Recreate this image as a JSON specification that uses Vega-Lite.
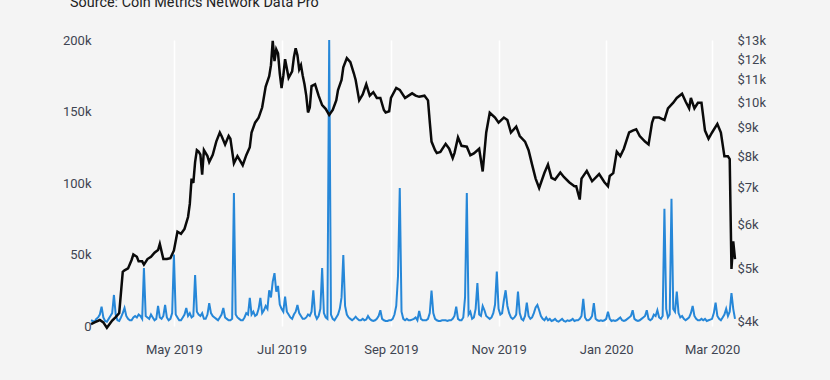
{
  "$schema": "https://vega.github.io/schema/vega-lite/v6.json",
  "autosize": {"type": "none"},
  "padding": {"left": 91, "top": 40, "right": 95, "bottom": 54},
  "width": 644,
  "height": 286,
  "background": "#f4f4f4",
  "title": {"text": "Source: Coin Metrics Network Data Pro", "anchor": "start", "frame": "group", "dx": -21, "offset": 0, "dy": -13, "baseline": "alphabetic", "font": "Roboto", "fontSize": 14.4, "fontWeight": "normal", "color": "#222222"},
  "config": {
    "view": {"stroke": null},
    "axis": {"domain": false, "ticks": false, "labelFont": "Roboto", "labelFontSize": 13, "labelColor": "#3e4451", "title": null}
  },
  "datasets": {
    "tx": [
      {"d":"2019-03-15","v":4},{"d":"2019-03-16","v":3.5},{"d":"2019-03-17","v":3},{"d":"2019-03-18","v":5},{"d":"2019-03-19","v":6},{"d":"2019-03-20","v":8},{"d":"2019-03-21","v":13.5},{"d":"2019-03-22","v":6},{"d":"2019-03-23","v":3.5},{"d":"2019-03-24","v":3},{"d":"2019-03-25","v":5},{"d":"2019-03-26","v":7},{"d":"2019-03-27","v":9},{"d":"2019-03-28","v":21.7},{"d":"2019-03-29","v":8},{"d":"2019-03-30","v":4},{"d":"2019-03-31","v":3.5},
      {"d":"2019-04-01","v":6},{"d":"2019-04-02","v":9},{"d":"2019-04-03","v":12.6},{"d":"2019-04-04","v":7},{"d":"2019-04-05","v":5},{"d":"2019-04-06","v":4},{"d":"2019-04-07","v":4},{"d":"2019-04-08","v":6},{"d":"2019-04-09","v":7},{"d":"2019-04-10","v":6},{"d":"2019-04-11","v":8},{"d":"2019-04-12","v":7},{"d":"2019-04-13","v":5},{"d":"2019-04-14","v":40.5},{"d":"2019-04-15","v":7},{"d":"2019-04-16","v":6},{"d":"2019-04-17","v":5},{"d":"2019-04-18","v":8},{"d":"2019-04-19","v":6},{"d":"2019-04-20","v":4},{"d":"2019-04-21","v":5},{"d":"2019-04-22","v":14},{"d":"2019-04-23","v":6},{"d":"2019-04-24","v":5},{"d":"2019-04-25","v":7},{"d":"2019-04-26","v":14.7},{"d":"2019-04-27","v":6},{"d":"2019-04-28","v":4},{"d":"2019-04-29","v":5},{"d":"2019-04-30","v":9},
      {"d":"2019-05-01","v":50},{"d":"2019-05-02","v":8},{"d":"2019-05-03","v":6},{"d":"2019-05-04","v":4},{"d":"2019-05-05","v":4},{"d":"2019-05-06","v":6},{"d":"2019-05-07","v":8},{"d":"2019-05-08","v":12.6},{"d":"2019-05-09","v":7},{"d":"2019-05-10","v":9},{"d":"2019-05-11","v":6},{"d":"2019-05-12","v":7},{"d":"2019-05-13","v":35.7},{"d":"2019-05-14","v":10},{"d":"2019-05-15","v":8},{"d":"2019-05-16","v":7},{"d":"2019-05-17","v":9},{"d":"2019-05-18","v":5},{"d":"2019-05-19","v":5},{"d":"2019-05-20","v":8},{"d":"2019-05-21","v":16},{"d":"2019-05-22","v":9},{"d":"2019-05-23","v":7},{"d":"2019-05-24","v":6},{"d":"2019-05-25","v":5},{"d":"2019-05-26","v":4},{"d":"2019-05-27","v":6},{"d":"2019-05-28","v":8},{"d":"2019-05-29","v":12.6},{"d":"2019-05-30","v":6},{"d":"2019-05-31","v":5},
      {"d":"2019-06-01","v":4},{"d":"2019-06-02","v":4},{"d":"2019-06-03","v":5},{"d":"2019-06-04","v":93},{"d":"2019-06-05","v":8},{"d":"2019-06-06","v":6},{"d":"2019-06-07","v":5},{"d":"2019-06-08","v":4},{"d":"2019-06-09","v":4},{"d":"2019-06-10","v":6},{"d":"2019-06-11","v":9},{"d":"2019-06-12","v":8},{"d":"2019-06-13","v":19.6},{"d":"2019-06-14","v":8},{"d":"2019-06-15","v":10},{"d":"2019-06-16","v":7},{"d":"2019-06-17","v":8},{"d":"2019-06-18","v":12},{"d":"2019-06-19","v":19.6},{"d":"2019-06-20","v":9},{"d":"2019-06-21","v":11},{"d":"2019-06-22","v":14},{"d":"2019-06-23","v":12},{"d":"2019-06-24","v":25},{"d":"2019-06-25","v":20},{"d":"2019-06-26","v":31},{"d":"2019-06-27","v":37},{"d":"2019-06-28","v":24},{"d":"2019-06-29","v":28},{"d":"2019-06-30","v":15},
      {"d":"2019-07-01","v":12},{"d":"2019-07-02","v":10},{"d":"2019-07-03","v":20.5},{"d":"2019-07-04","v":10},{"d":"2019-07-05","v":8},{"d":"2019-07-06","v":6},{"d":"2019-07-07","v":5},{"d":"2019-07-08","v":8},{"d":"2019-07-09","v":10},{"d":"2019-07-10","v":14.7},{"d":"2019-07-11","v":9},{"d":"2019-07-12","v":7},{"d":"2019-07-13","v":5},{"d":"2019-07-14","v":5},{"d":"2019-07-15","v":6},{"d":"2019-07-16","v":8},{"d":"2019-07-17","v":7},{"d":"2019-07-18","v":10},{"d":"2019-07-19","v":25},{"d":"2019-07-20","v":8},{"d":"2019-07-21","v":5},{"d":"2019-07-22","v":7},{"d":"2019-07-23","v":12},{"d":"2019-07-24","v":40.5},{"d":"2019-07-25","v":9},{"d":"2019-07-26","v":6},{"d":"2019-07-27","v":5},{"d":"2019-07-28","v":200},{"d":"2019-07-29","v":8},{"d":"2019-07-30","v":5},{"d":"2019-07-31","v":4},
      {"d":"2019-08-01","v":6},{"d":"2019-08-02","v":8},{"d":"2019-08-03","v":12},{"d":"2019-08-04","v":20},{"d":"2019-08-05","v":49.6},{"d":"2019-08-06","v":14},{"d":"2019-08-07","v":8},{"d":"2019-08-08","v":6},{"d":"2019-08-09","v":5},{"d":"2019-08-10","v":4},{"d":"2019-08-11","v":5},{"d":"2019-08-12","v":6.5},{"d":"2019-08-13","v":5},{"d":"2019-08-14","v":4},{"d":"2019-08-15","v":4},{"d":"2019-08-16","v":5},{"d":"2019-08-17","v":4},{"d":"2019-08-18","v":4.5},{"d":"2019-08-19","v":7},{"d":"2019-08-20","v":5},{"d":"2019-08-21","v":4},{"d":"2019-08-22","v":3.5},{"d":"2019-08-23","v":4},{"d":"2019-08-24","v":5},{"d":"2019-08-25","v":7},{"d":"2019-08-26","v":11},{"d":"2019-08-27","v":5},{"d":"2019-08-28","v":4},{"d":"2019-08-29","v":3.5},{"d":"2019-08-30","v":3.5},{"d":"2019-08-31","v":4},
      {"d":"2019-09-01","v":4},{"d":"2019-09-02","v":5},{"d":"2019-09-03","v":8},{"d":"2019-09-04","v":14},{"d":"2019-09-05","v":35},{"d":"2019-09-06","v":96.5},{"d":"2019-09-07","v":10},{"d":"2019-09-08","v":5},{"d":"2019-09-09","v":4},{"d":"2019-09-10","v":5},{"d":"2019-09-11","v":4},{"d":"2019-09-12","v":4},{"d":"2019-09-13","v":4.5},{"d":"2019-09-14","v":5},{"d":"2019-09-15","v":6},{"d":"2019-09-16","v":4},{"d":"2019-09-17","v":10.5},{"d":"2019-09-18","v":5},{"d":"2019-09-19","v":4},{"d":"2019-09-20","v":4},{"d":"2019-09-21","v":4},{"d":"2019-09-22","v":5},{"d":"2019-09-23","v":9},{"d":"2019-09-24","v":24.7},{"d":"2019-09-25","v":9},{"d":"2019-09-26","v":5},{"d":"2019-09-27","v":4},{"d":"2019-09-28","v":3.5},{"d":"2019-09-29","v":3.5},{"d":"2019-09-30","v":4},
      {"d":"2019-10-01","v":4},{"d":"2019-10-02","v":4},{"d":"2019-10-03","v":3.5},{"d":"2019-10-04","v":4},{"d":"2019-10-05","v":4},{"d":"2019-10-06","v":5},{"d":"2019-10-07","v":7},{"d":"2019-10-08","v":13.5},{"d":"2019-10-09","v":5},{"d":"2019-10-10","v":4},{"d":"2019-10-11","v":4},{"d":"2019-10-12","v":6},{"d":"2019-10-13","v":20},{"d":"2019-10-14","v":93},{"d":"2019-10-15","v":8},{"d":"2019-10-16","v":10},{"d":"2019-10-17","v":5},{"d":"2019-10-18","v":6},{"d":"2019-10-19","v":12},{"d":"2019-10-20","v":30},{"d":"2019-10-21","v":8},{"d":"2019-10-22","v":7},{"d":"2019-10-23","v":14},{"d":"2019-10-24","v":11},{"d":"2019-10-25","v":7},{"d":"2019-10-26","v":6},{"d":"2019-10-27","v":5},{"d":"2019-10-28","v":6},{"d":"2019-10-29","v":9},{"d":"2019-10-30","v":15},{"d":"2019-10-31","v":38},
      {"d":"2019-11-01","v":12},{"d":"2019-11-02","v":8},{"d":"2019-11-03","v":9},{"d":"2019-11-04","v":18},{"d":"2019-11-05","v":25},{"d":"2019-11-06","v":14},{"d":"2019-11-07","v":9},{"d":"2019-11-08","v":6},{"d":"2019-11-09","v":5},{"d":"2019-11-10","v":6},{"d":"2019-11-11","v":8},{"d":"2019-11-12","v":24},{"d":"2019-11-13","v":9},{"d":"2019-11-14","v":5},{"d":"2019-11-15","v":4},{"d":"2019-11-16","v":7},{"d":"2019-11-17","v":16.3},{"d":"2019-11-18","v":7},{"d":"2019-11-19","v":5},{"d":"2019-11-20","v":6},{"d":"2019-11-21","v":9},{"d":"2019-11-22","v":13},{"d":"2019-11-23","v":14.7},{"d":"2019-11-24","v":11},{"d":"2019-11-25","v":7},{"d":"2019-11-26","v":5},{"d":"2019-11-27","v":4},{"d":"2019-11-28","v":6},{"d":"2019-11-29","v":4},{"d":"2019-11-30","v":5},
      {"d":"2019-12-01","v":3.5},{"d":"2019-12-02","v":4},{"d":"2019-12-03","v":5},{"d":"2019-12-04","v":3.5},{"d":"2019-12-05","v":3},{"d":"2019-12-06","v":4},{"d":"2019-12-07","v":5},{"d":"2019-12-08","v":3.5},{"d":"2019-12-09","v":3},{"d":"2019-12-10","v":4},{"d":"2019-12-11","v":3.5},{"d":"2019-12-12","v":4},{"d":"2019-12-13","v":5},{"d":"2019-12-14","v":3.5},{"d":"2019-12-15","v":4},{"d":"2019-12-16","v":4},{"d":"2019-12-17","v":5},{"d":"2019-12-18","v":7},{"d":"2019-12-19","v":19},{"d":"2019-12-20","v":6},{"d":"2019-12-21","v":4},{"d":"2019-12-22","v":4},{"d":"2019-12-23","v":5},{"d":"2019-12-24","v":7},{"d":"2019-12-25","v":16},{"d":"2019-12-26","v":5},{"d":"2019-12-27","v":4},{"d":"2019-12-28","v":3.5},{"d":"2019-12-29","v":4},{"d":"2019-12-30","v":3.5},{"d":"2019-12-31","v":4},
      {"d":"2020-01-01","v":5},{"d":"2020-01-02","v":10},{"d":"2020-01-03","v":5},{"d":"2020-01-04","v":3.5},{"d":"2020-01-05","v":4},{"d":"2020-01-06","v":3.5},{"d":"2020-01-07","v":4},{"d":"2020-01-08","v":5},{"d":"2020-01-09","v":6},{"d":"2020-01-10","v":4},{"d":"2020-01-11","v":3.5},{"d":"2020-01-12","v":4},{"d":"2020-01-13","v":5},{"d":"2020-01-14","v":6},{"d":"2020-01-15","v":7},{"d":"2020-01-16","v":11},{"d":"2020-01-17","v":5},{"d":"2020-01-18","v":4},{"d":"2020-01-19","v":3.5},{"d":"2020-01-20","v":4},{"d":"2020-01-21","v":5},{"d":"2020-01-22","v":6},{"d":"2020-01-23","v":7},{"d":"2020-01-24","v":11},{"d":"2020-01-25","v":5},{"d":"2020-01-26","v":4},{"d":"2020-01-27","v":5},{"d":"2020-01-28","v":8},{"d":"2020-01-29","v":7},{"d":"2020-01-30","v":11},{"d":"2020-01-31","v":6},
      {"d":"2020-02-01","v":5},{"d":"2020-02-02","v":7},{"d":"2020-02-03","v":82},{"d":"2020-02-04","v":12},{"d":"2020-02-05","v":6},{"d":"2020-02-06","v":8},{"d":"2020-02-07","v":89},{"d":"2020-02-08","v":12},{"d":"2020-02-09","v":10},{"d":"2020-02-10","v":24},{"d":"2020-02-11","v":9},{"d":"2020-02-12","v":6},{"d":"2020-02-13","v":7},{"d":"2020-02-14","v":5},{"d":"2020-02-15","v":4},{"d":"2020-02-16","v":5},{"d":"2020-02-17","v":6},{"d":"2020-02-18","v":9},{"d":"2020-02-19","v":14},{"d":"2020-02-20","v":7},{"d":"2020-02-21","v":5},{"d":"2020-02-22","v":4},{"d":"2020-02-23","v":4},{"d":"2020-02-24","v":5},{"d":"2020-02-25","v":4},{"d":"2020-02-26","v":5},{"d":"2020-02-27","v":3.5},{"d":"2020-02-28","v":4},{"d":"2020-02-29","v":4.5},
      {"d":"2020-03-01","v":5},{"d":"2020-03-02","v":9},{"d":"2020-03-03","v":16.3},{"d":"2020-03-04","v":7},{"d":"2020-03-05","v":5},{"d":"2020-03-06","v":4},{"d":"2020-03-07","v":6},{"d":"2020-03-08","v":8},{"d":"2020-03-09","v":12},{"d":"2020-03-10","v":7},{"d":"2020-03-11","v":10},{"d":"2020-03-12","v":23},{"d":"2020-03-13","v":12},{"d":"2020-03-14","v":5}
    ],
    "price": [
      {"d":"2019-03-15","p":3960},{"d":"2019-03-17","p":3990},{"d":"2019-03-20","p":4030},{"d":"2019-03-22","p":3990},{"d":"2019-03-24","p":3900},{"d":"2019-03-27","p":4020},{"d":"2019-03-29","p":4080},{"d":"2019-03-31","p":4150},
      {"d":"2019-04-02","p":4930},{"d":"2019-04-03","p":4960},{"d":"2019-04-05","p":5000},{"d":"2019-04-07","p":5180},{"d":"2019-04-08","p":5300},{"d":"2019-04-10","p":5250},{"d":"2019-04-11","p":5150},{"d":"2019-04-13","p":5150},{"d":"2019-04-14","p":5080},{"d":"2019-04-16","p":5200},{"d":"2019-04-18","p":5250},{"d":"2019-04-20","p":5340},{"d":"2019-04-22","p":5400},{"d":"2019-04-23","p":5540},{"d":"2019-04-25","p":5200},{"d":"2019-04-27","p":5200},{"d":"2019-04-29","p":5220},
      {"d":"2019-05-01","p":5390},{"d":"2019-05-03","p":5830},{"d":"2019-05-05","p":5780},{"d":"2019-05-07","p":5900},{"d":"2019-05-09","p":6200},{"d":"2019-05-10","p":6550},{"d":"2019-05-11","p":7280},{"d":"2019-05-12","p":7150},{"d":"2019-05-13","p":7800},{"d":"2019-05-14","p":8200},{"d":"2019-05-15","p":8150},{"d":"2019-05-16","p":8050},{"d":"2019-05-17","p":7400},{"d":"2019-05-18","p":8200},{"d":"2019-05-20","p":8000},{"d":"2019-05-21","p":7800},{"d":"2019-05-23","p":8040},{"d":"2019-05-25","p":8500},{"d":"2019-05-27","p":8830},{"d":"2019-05-28","p":8700},{"d":"2019-05-30","p":8400},
      {"d":"2019-06-01","p":8700},{"d":"2019-06-02","p":8600},{"d":"2019-06-04","p":7760},{"d":"2019-06-06","p":8000},{"d":"2019-06-07","p":7900},{"d":"2019-06-09","p":7700},{"d":"2019-06-11","p":8030},{"d":"2019-06-13","p":8300},{"d":"2019-06-14","p":8830},{"d":"2019-06-16","p":9200},{"d":"2019-06-18","p":9390},{"d":"2019-06-20","p":9800},{"d":"2019-06-22","p":10700},{"d":"2019-06-24","p":11170},{"d":"2019-06-25","p":11700},{"d":"2019-06-26","p":12950},{"d":"2019-06-27","p":11900},{"d":"2019-06-28","p":12500},{"d":"2019-06-29","p":12300},{"d":"2019-06-30","p":11300},
      {"d":"2019-07-01","p":10630},{"d":"2019-07-02","p":11200},{"d":"2019-07-03","p":12000},{"d":"2019-07-05","p":11100},{"d":"2019-07-07","p":11400},{"d":"2019-07-08","p":12100},{"d":"2019-07-09","p":12560},{"d":"2019-07-10","p":12200},{"d":"2019-07-11","p":11500},{"d":"2019-07-12","p":11700},{"d":"2019-07-13","p":11200},{"d":"2019-07-14","p":10800},{"d":"2019-07-15","p":10300},{"d":"2019-07-16","p":9600},{"d":"2019-07-17","p":9800},{"d":"2019-07-18","p":10720},{"d":"2019-07-20","p":10800},{"d":"2019-07-22","p":10300},{"d":"2019-07-24","p":9900},{"d":"2019-07-26","p":9750},{"d":"2019-07-28","p":9500},{"d":"2019-07-30","p":9700},
      {"d":"2019-08-01","p":10100},{"d":"2019-08-02","p":10540},{"d":"2019-08-04","p":11000},{"d":"2019-08-05","p":11600},{"d":"2019-08-07","p":12050},{"d":"2019-08-09","p":11850},{"d":"2019-08-11","p":11300},{"d":"2019-08-12","p":11000},{"d":"2019-08-14","p":10100},{"d":"2019-08-16","p":10350},{"d":"2019-08-18","p":10800},{"d":"2019-08-20","p":10300},{"d":"2019-08-22","p":10450},{"d":"2019-08-24","p":10200},{"d":"2019-08-26","p":10200},{"d":"2019-08-28","p":9700},{"d":"2019-08-29","p":9600},{"d":"2019-08-31","p":9650},
      {"d":"2019-09-01","p":10200},{"d":"2019-09-04","p":10640},{"d":"2019-09-06","p":10550},{"d":"2019-09-09","p":10200},{"d":"2019-09-11","p":10300},{"d":"2019-09-13","p":10400},{"d":"2019-09-15","p":10300},{"d":"2019-09-17","p":10250},{"d":"2019-09-20","p":10300},{"d":"2019-09-22","p":10100},{"d":"2019-09-23","p":9230},{"d":"2019-09-24","p":8500},{"d":"2019-09-26","p":8200},{"d":"2019-09-27","p":8100},{"d":"2019-09-29","p":8140},
      {"d":"2019-10-02","p":8420},{"d":"2019-10-04","p":8250},{"d":"2019-10-06","p":7930},{"d":"2019-10-07","p":8100},{"d":"2019-10-09","p":8650},{"d":"2019-10-11","p":8350},{"d":"2019-10-14","p":8320},{"d":"2019-10-16","p":8030},{"d":"2019-10-18","p":8090},{"d":"2019-10-21","p":8250},{"d":"2019-10-23","p":7500},{"d":"2019-10-25","p":8830},{"d":"2019-10-27","p":9590},{"d":"2019-10-30","p":9400},
      {"d":"2019-11-01","p":9200},{"d":"2019-11-04","p":9400},{"d":"2019-11-06","p":9300},{"d":"2019-11-08","p":8830},{"d":"2019-11-11","p":9050},{"d":"2019-11-13","p":8700},{"d":"2019-11-16","p":8500},{"d":"2019-11-18","p":8200},{"d":"2019-11-20","p":7720},{"d":"2019-11-22","p":7280},{"d":"2019-11-24","p":7000},{"d":"2019-11-27","p":7460},{"d":"2019-11-29","p":7720},
      {"d":"2019-12-01","p":7300},{"d":"2019-12-03","p":7250},{"d":"2019-12-06","p":7470},{"d":"2019-12-08","p":7330},{"d":"2019-12-11","p":7170},{"d":"2019-12-14","p":7050},{"d":"2019-12-15","p":7050},{"d":"2019-12-17","p":6670},{"d":"2019-12-18","p":7280},{"d":"2019-12-21","p":7520},{"d":"2019-12-24","p":7200},{"d":"2019-12-28","p":7420},{"d":"2019-12-31","p":7170},
      {"d":"2020-01-02","p":7050},{"d":"2020-01-03","p":7360},{"d":"2020-01-05","p":7450},{"d":"2020-01-07","p":8150},{"d":"2020-01-09","p":8000},{"d":"2020-01-11","p":8250},{"d":"2020-01-14","p":8830},{"d":"2020-01-16","p":8900},{"d":"2020-01-18","p":8950},{"d":"2020-01-20","p":8700},{"d":"2020-01-23","p":8500},{"d":"2020-01-25","p":8400},{"d":"2020-01-27","p":9200},{"d":"2020-01-28","p":9400},{"d":"2020-01-31","p":9400},
      {"d":"2020-02-03","p":9300},{"d":"2020-02-05","p":9770},{"d":"2020-02-08","p":10000},{"d":"2020-02-10","p":10200},{"d":"2020-02-13","p":10380},{"d":"2020-02-15","p":10050},{"d":"2020-02-17","p":9770},{"d":"2020-02-18","p":10200},{"d":"2020-02-20","p":9770},{"d":"2020-02-22","p":10000},{"d":"2020-02-24","p":10000},{"d":"2020-02-26","p":8900},{"d":"2020-02-28","p":8600},
      {"d":"2020-03-01","p":8830},{"d":"2020-03-04","p":9150},{"d":"2020-03-06","p":8830},{"d":"2020-03-08","p":7990},{"d":"2020-03-10","p":7990},{"d":"2020-03-11","p":7900},{"d":"2020-03-12","p":4990},{"d":"2020-03-13","p":5600},{"d":"2020-03-14","p":5200}
    ]
  },
  "layer": [
    {
      "data": {"name": "tx"},
      "mark": {"type": "line", "color": "#2687d8", "strokeWidth": 2, "interpolate": "linear"},
      "encoding": {
        "x": {"field": "d", "type": "temporal", "axis": {"grid": true, "gridColor": "#ffffff", "gridWidth": 1.5, "format": "%b %Y", "tickCount": {"interval": "month", "step": 2}, "labelPadding": 17, "labelColor": "#3e4451"}},
        "y": {"field": "v", "type": "quantitative", "scale": {"domain": [0, 200], "nice": false}, "axis": {"orient": "left", "grid": false, "values": [0, 50, 100, 150, 200], "labelExpr": "datum.value == 0 ? '0' : datum.value + 'k'", "labelPadding": 0}}
      }
    },
    {
      "data": {"name": "price"},
      "mark": {"type": "line", "color": "#0a0a0a", "strokeWidth": 2.5, "interpolate": "linear"},
      "encoding": {
        "x": {"field": "d", "type": "temporal"},
        "y": {"field": "p", "type": "quantitative", "scale": {"type": "log", "domain": [3930, 13000], "nice": false}, "axis": {"orient": "right", "grid": false, "values": [4000, 5000, 6000, 7000, 8000, 9000, 10000, 11000, 12000, 13000], "labelExpr": "'$' + datum.value / 1000 + 'k'", "labelPadding": 2}}
      }
    }
  ],
  "resolve": {"scale": {"y": "independent"}}
}
